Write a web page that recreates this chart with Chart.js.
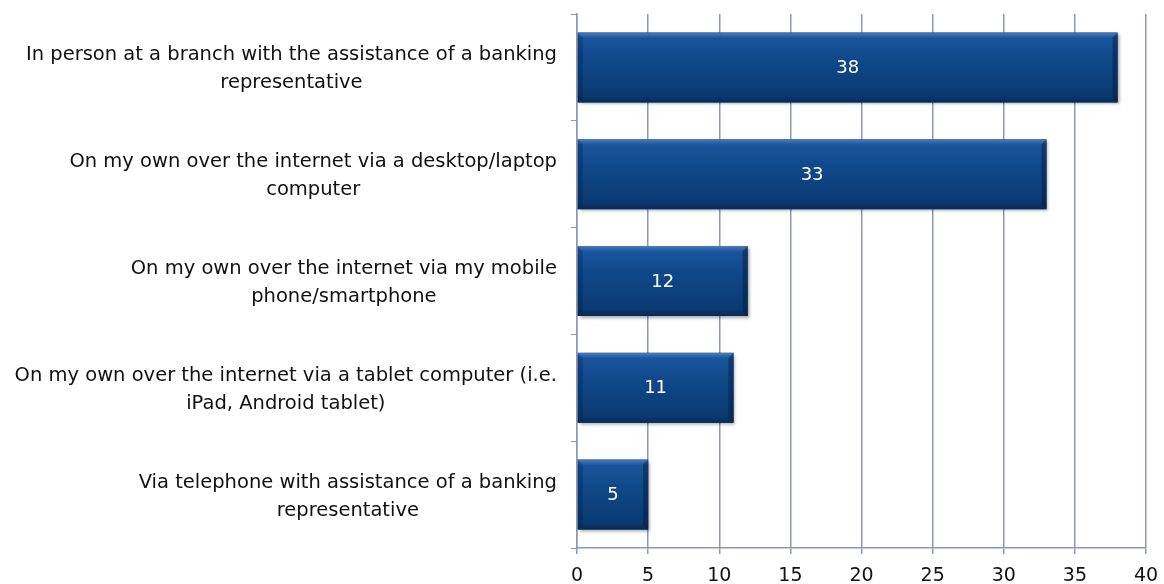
<!DOCTYPE html>
<html>
<head>
<meta charset="utf-8">
<script src="https://cdn.jsdelivr.net/npm/chart.js@4"></script>
<style>
  html, body { margin: 0; padding: 0; background: #fff; }
  #wrap { width: 1164px; height: 584px; position: relative; }
</style>
</head>
<body>
<div id="wrap"><canvas id="chart"></canvas></div>
<script>
const categories = [
  ["In person at a branch with the assistance of a banking", "representative"],
  ["On my own over the internet via a desktop/laptop", "computer"],
  ["On my own over the internet via my mobile", "phone/smartphone"],
  ["On my own over the internet via a tablet computer (i.e.", "iPad, Android tablet)"],
  ["Via telephone with assistance of a banking", "representative"],
];
const values = [38, 33, 12, 11, 5];
const xTicks = [0, 5, 10, 15, 20, 25, 30, 35, 40];

const FONT = '"DejaVu Sans", sans-serif';
const gridColor = "#8c98b6";

// bevelled bar look + value labels
const barStyle = {
  id: "barStyle",
  afterDatasetsDraw(chart) {
    const c = chart.ctx;
    const meta = chart.getDatasetMeta(0);
    meta.data.forEach((bar, i) => {
      const p = bar.getProps(["x", "y", "base", "height"], true);
      const left = Math.min(p.base, p.x);
      const right = Math.max(p.base, p.x);
      const top = p.y - p.height / 2;
      const bottom = p.y + p.height / 2;
      c.save();
      c.shadowColor = "rgba(0,0,0,0.35)";
      c.shadowOffsetX = 2;
      c.shadowOffsetY = 2;
      c.shadowBlur = 3;
      const g = c.createLinearGradient(0, top, 0, bottom);
      g.addColorStop(0, "#4a7dbf");
      g.addColorStop(0.08, "#1a559c");
      g.addColorStop(0.4, "#0f4889");
      g.addColorStop(0.9, "#0b3a72");
      g.addColorStop(1, "#082a55");
      c.fillStyle = g;
      c.fillRect(left, top, right - left, bottom - top);
      c.restore();
      // bevel edges
      c.save();
      c.fillStyle = "rgba(5,25,55,0.45)";
      c.beginPath();
      c.moveTo(right - 5, top + 5);
      c.lineTo(right, top);
      c.lineTo(right, bottom);
      c.lineTo(right - 5, bottom - 5);
      c.closePath();
      c.fill();
      c.fillStyle = "rgba(5,25,55,0.3)";
      c.beginPath();
      c.moveTo(left, top);
      c.lineTo(left + 5, top + 5);
      c.lineTo(left + 5, bottom - 5);
      c.lineTo(left, bottom);
      c.closePath();
      c.fill();
      c.restore();
      // value label
      c.save();
      c.fillStyle = "#ffffff";
      c.font = "18px " + FONT;
      c.textAlign = "center";
      c.textBaseline = "middle";
      c.fillText(String(values[i]), (left + right) / 2, p.y + 1);
      c.restore();
    });
  },
  afterDraw(chart) {
    // category labels: block right-aligned, lines centred within block
    const c = chart.ctx;
    const yScale = chart.scales.y;
    const rightEdge = yScale.right - 20;
    c.save();
    c.font = "19.5px " + FONT;
    c.fillStyle = "#111111";
    c.textAlign = "center";
    c.textBaseline = "middle";
    const lh = 28;
    categories.forEach((lines, i) => {
      const y = yScale.getPixelForValue(i) + 2;
      const w = Math.max(...lines.map((l) => c.measureText(l).width));
      const cx = rightEdge - w / 2;
      lines.forEach((l, j) => {
        c.fillText(l, cx, y + (j - (lines.length - 1) / 2) * lh);
      });
    });
    c.restore();
  },
};

new Chart(document.getElementById("chart"), {
  type: "bar",
  data: {
    labels: categories,
    datasets: [
      {
        data: values,
        backgroundColor: "#11498b",
        borderWidth: 0,
        categoryPercentage: 1,
        barPercentage: 0.655,
      },
    ],
  },
  options: {
    indexAxis: "y",
    responsive: true,
    maintainAspectRatio: false,
    animation: false,
    layout: { padding: { top: 14, right: 18, bottom: 0, left: 0 } },
    plugins: {
      legend: { display: false },
      tooltip: { enabled: false },
    },
    scales: {
      x: {
        min: 0,
        max: 40,
        afterBuildTicks(scale) {
          scale.ticks = xTicks.map((v) => ({ value: v }));
        },
        afterFit(scale) {
          scale.height = 36;
          scale.paddingLeft = 0;
          scale.paddingRight = 0;
        },
        grid: {
          color: gridColor,
          lineWidth: 1.5,
          drawTicks: true,
          tickLength: 6,
        },
        border: { color: gridColor, width: 1.5 },
        ticks: {
          color: "#111111",
          font: { family: FONT, size: 19 },
          padding: 11,
          maxRotation: 0,
        },
      },
      y: {
        afterFit(scale) {
          scale.width = 577;
        },
        grid: {
          offset: true,
          drawOnChartArea: false,
          color: gridColor,
          tickLength: 6,
        },
        border: { color: gridColor, width: 1.5 },
        ticks: { display: false },
      },
    },
  },
  plugins: [barStyle],
});
</script>
</body>
</html>
